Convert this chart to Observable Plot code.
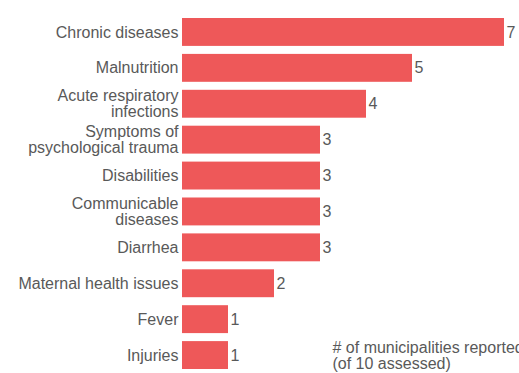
<!DOCTYPE html>
<html>
<head>
<meta charset="utf-8">
<script src="https://cdn.jsdelivr.net/npm/d3@7"></script>
<script src="https://cdn.jsdelivr.net/npm/@observablehq/plot@0.6"></script>
<style>
  html, body { margin: 0; padding: 0; background: #fff; overflow: hidden; }
  #chart svg { display: block; }
</style>
</head>
<body>
<div id="chart"></div>
<script>
const categories = [
  "Chronic diseases",
  "Malnutrition",
  "Acute respiratory\ninfections",
  "Symptoms of\npsychological trauma",
  "Disabilities",
  "Communicable\ndiseases",
  "Diarrhea",
  "Maternal health issues",
  "Fever",
  "Injuries"
];
const counts = [7, 5, 4, 3, 3, 3, 3, 2, 1, 1];
const captionText = "# of municipalities reported\n(of 10 assessed)";

const data = categories.map((c, i) => ({category: c, value: counts[i]}));

const barColor = "#EE5859";
const textColor = "#595959";
const font = "'Liberation Sans', Arial, sans-serif";

const chart = Plot.plot({
  width: 519,
  height: 373,
  marginTop: 14,
  marginBottom: 0,
  marginLeft: 182,
  marginRight: 15,
  style: {fontFamily: font, fontSize: "16px", color: textColor, background: "#fff", overflow: "hidden"},
  x: {domain: [0, 7], axis: null},
  y: {domain: categories, padding: 0, round: false, label: null},
  marks: [
    Plot.barX(data, {x: "value", y: "category", fill: barColor, insetTop: 4, insetBottom: 4}),
    Plot.text(data, {x: "value", y: "category", text: d => String(d.value), textAnchor: "start", dx: 2, fill: textColor, fontSize: 16}),
    Plot.axisY({tickSize: 0, tickPadding: 4, fontSize: 16, lineHeight: 1.0, fill: textColor, label: null}),
    Plot.text([captionText], {frameAnchor: "bottom-left", text: d => d, textAnchor: "start", lineAnchor: "bottom", dx: 150, dy: -5, fill: textColor, fontSize: 16, lineHeight: 1.0})
  ]
});
document.getElementById("chart").appendChild(chart);
</script>
</body>
</html>
